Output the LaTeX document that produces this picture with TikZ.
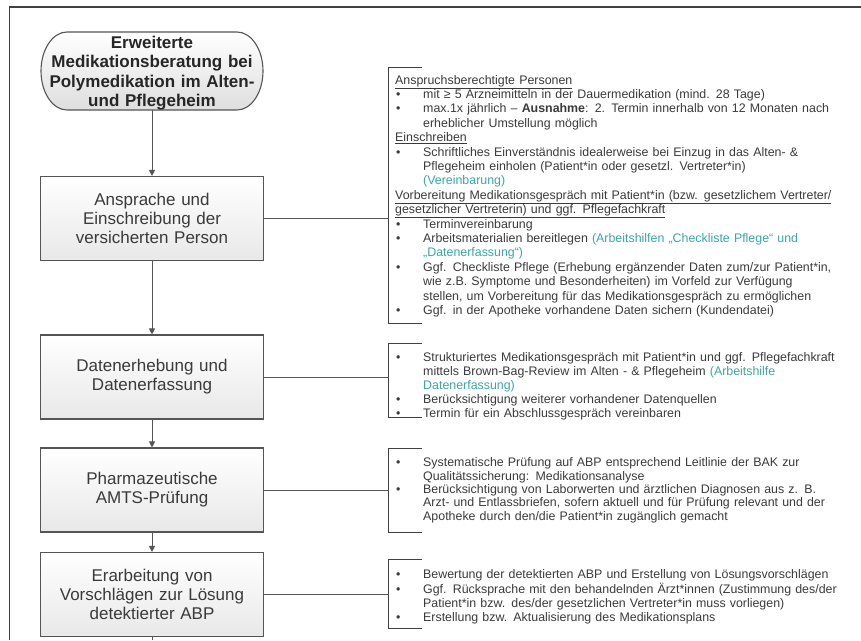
\documentclass[tikz,border=0pt]{standalone}
\usepackage{fontspec}
\setmainfont{Liberation Sans}
\usetikzlibrary{arrows.meta}
\definecolor{txt}{HTML}{3A3A3A}
\definecolor{tealtxt}{HTML}{3AA6A3}
\definecolor{edgec}{HTML}{555555}
\newcommand{\bitem}[1]{\par\noindent\makebox[28pt][l]{\hspace{1pt}•}#1}
\newcommand{\bcont}[1]{\par\noindent\hspace*{28pt}#1}
\newcommand{\bhead}[1]{\par\noindent#1}
\newcommand{\tl}[1]{\textcolor{tealtxt}{#1}}
\begin{document}
\begin{tikzpicture}[x=1pt,y=-1pt,
  box/.style={draw=edgec, line width=1.1pt, top color=white, bottom color=black!9,
    minimum width=223pt, minimum height=84pt, text width=215pt, align=center,
    font=\fontsize{17}{19}\selectfont, text=txt, inner sep=0pt},
  starttext/.style={minimum width=222pt, minimum height=78pt, text width=222pt, align=center,
    font=\bfseries\fontsize{17}{19.5}\selectfont, text=black!85, inner sep=0pt},
  startshape/.style={draw=edgec, line width=1.1pt, top color=white, bottom color=black!13},
  btxt/.style={anchor=north west, text width=490pt, inner sep=0pt, align=left,
    font=\fontsize{12.4}{14.4}\selectfont, text=txt},
  brk/.style={draw=black!75, line width=0.9pt},
  conn/.style={draw=edgec, line width=0.9pt},
  arr/.style={conn, -{Triangle[length=6pt,width=6pt]}},
  frame/.style={draw=black!75, line width=1.1pt}]
\useasboundingbox (0,0) rectangle (861,640);
% outer frame
\draw[frame] (861,7) -- (9.5,7) -- (9.5,640);
% start terminator
\path[startshape] (67,32) -- (237,32) .. controls (251.35,32) and (263,49.47) .. (263,71)
  .. controls (263,92.53) and (251.35,110) .. (237,110) -- (67,110)
  .. controls (52.65,110) and (41,92.53) .. (41,71)
  .. controls (41,49.47) and (52.65,32) .. (67,32) -- cycle;
\node[starttext] (start) at (152,73) {Erweiterte\\Medikationsberatung bei\\Polymedikation im Alten-\\und Pflegeheim};
\coordinate (startbot) at (152,110);
% process boxes
\node[box] (b1) at (152,218.5) {Ansprache und\\Einschreibung der\\versicherten Person};
\node[box] (b2) at (152,377) {Datenerhebung und\\Datenerfassung};
\node[box] (b3) at (152,490) {Pharmazeutische\\AMTS-Prüfung};
\node[box] (b4) at (152,594.5) {Erarbeitung von\\Vorschlägen zur Lösung\\detektierter ABP};
% arrows
\draw[arr] (startbot) -- (b1.north);
\draw[arr] (b1.south) -- (b2.north);
\draw[arr] (b2.south) -- (b3.north);
\draw[arr] (b3.south) -- (b4.north);
\coordinate (bot) at (152,640);
\draw[conn] (b4.south) -- (bot);
% brackets
\draw[brk] (422,67) -- (388.5,67) -- (388.5,323) -- (422,323);
\draw[brk] (422,343) -- (388.5,343) -- (388.5,417) -- (422,417);
\draw[brk] (422,448) -- (388.5,448) -- (388.5,532) -- (422,532);
\draw[brk] (422,559) -- (388.5,559) -- (388.5,628) -- (422,628);
\coordinate (k1) at (388.5,218.5);
\coordinate (k2) at (388.5,377);
\coordinate (k3) at (388.5,490);
\coordinate (k4) at (388.5,594.5);
\draw[conn] (b1.east) -- (k1);
\draw[conn] (b2.east) -- (k2);
\draw[conn] (b3.east) -- (k3);
\draw[conn] (b4.east) -- (k4);
% bracket texts
\node[btxt] (t1) at (395,69.5) {%
\bhead{\underline{Anspruchsberechtigte Personen}}
\bitem{mit ≥ 5 Arzneimitteln in der Dauermedikation (mind. 28 Tage)}
\bitem{max.1x jährlich – \textbf{Ausnahme}: 2. Termin innerhalb von 12 Monaten nach}
\bcont{erheblicher Umstellung möglich}
\bhead{\underline{Einschreiben}}
\bitem{Schriftliches Einverständnis idealerweise bei Einzug in das Alten- \&}
\bcont{Pflegeheim einholen (Patient*in oder gesetzl. Vertreter*in)}
\bcont{\tl{(Vereinbarung)}}
\bhead{\underline{Vorbereitung Medikationsgespräch mit Patient*in (bzw. gesetzlichem Vertreter/}}
\bhead{\underline{gesetzlicher Vertreterin) und ggf. Pflegefachkraft}}
\bitem{Terminvereinbarung}
\bitem{Arbeitsmaterialien bereitlegen \tl{(Arbeitshilfen „Checkliste Pflege“ und}}
\bcont{\tl{„Datenerfassung“)}}
\bitem{Ggf. Checkliste Pflege (Erhebung ergänzender Daten zum/zur Patient*in,}
\bcont{wie z.B. Symptome und Besonderheiten) im Vorfeld zur Verfügung}
\bcont{stellen, um Vorbereitung für das Medikationsgespräch zu ermöglichen}
\bitem{Ggf. in der Apotheke vorhandene Daten sichern (Kundendatei)}};
\node[btxt, font=\fontsize{12.4}{14}\selectfont] (t2) at (395,347) {%
\bitem{Strukturiertes Medikationsgespräch mit Patient*in und ggf. Pflegefachkraft}
\bcont{mittels Brown-Bag-Review im Alten - \& Pflegeheim \tl{(Arbeitshilfe}}
\bcont{\tl{Datenerfassung)}}
\bitem{Berücksichtigung weiterer vorhandener Datenquellen}
\bitem{Termin für ein Abschlussgespräch vereinbaren}};
\node[btxt, font=\fontsize{12.4}{13.4}\selectfont] (t3) at (395,453) {%
\bitem{Systematische Prüfung auf ABP entsprechend Leitlinie der BAK zur}
\bcont{Qualitätssicherung: Medikationsanalyse}
\bitem{Berücksichtigung von Laborwerten und ärztlichen Diagnosen aus z. B.}
\bcont{Arzt- und Entlassbriefen, sofern aktuell und für Prüfung relevant und der}
\bcont{Apotheke durch den/die Patient*in zugänglich gemacht}};
\node[btxt] (t4) at (395,564) {%
\bitem{Bewertung der detektierten ABP und Erstellung von Lösungsvorschlägen}
\bitem{Ggf. Rücksprache mit den behandelnden Ärzt*innen (Zustimmung des/der}
\bcont{Patient*in bzw. des/der gesetzlichen Vertreter*in muss vorliegen)}
\bitem{Erstellung bzw. Aktualisierung des Medikationsplans}};
\end{tikzpicture}
\end{document}
